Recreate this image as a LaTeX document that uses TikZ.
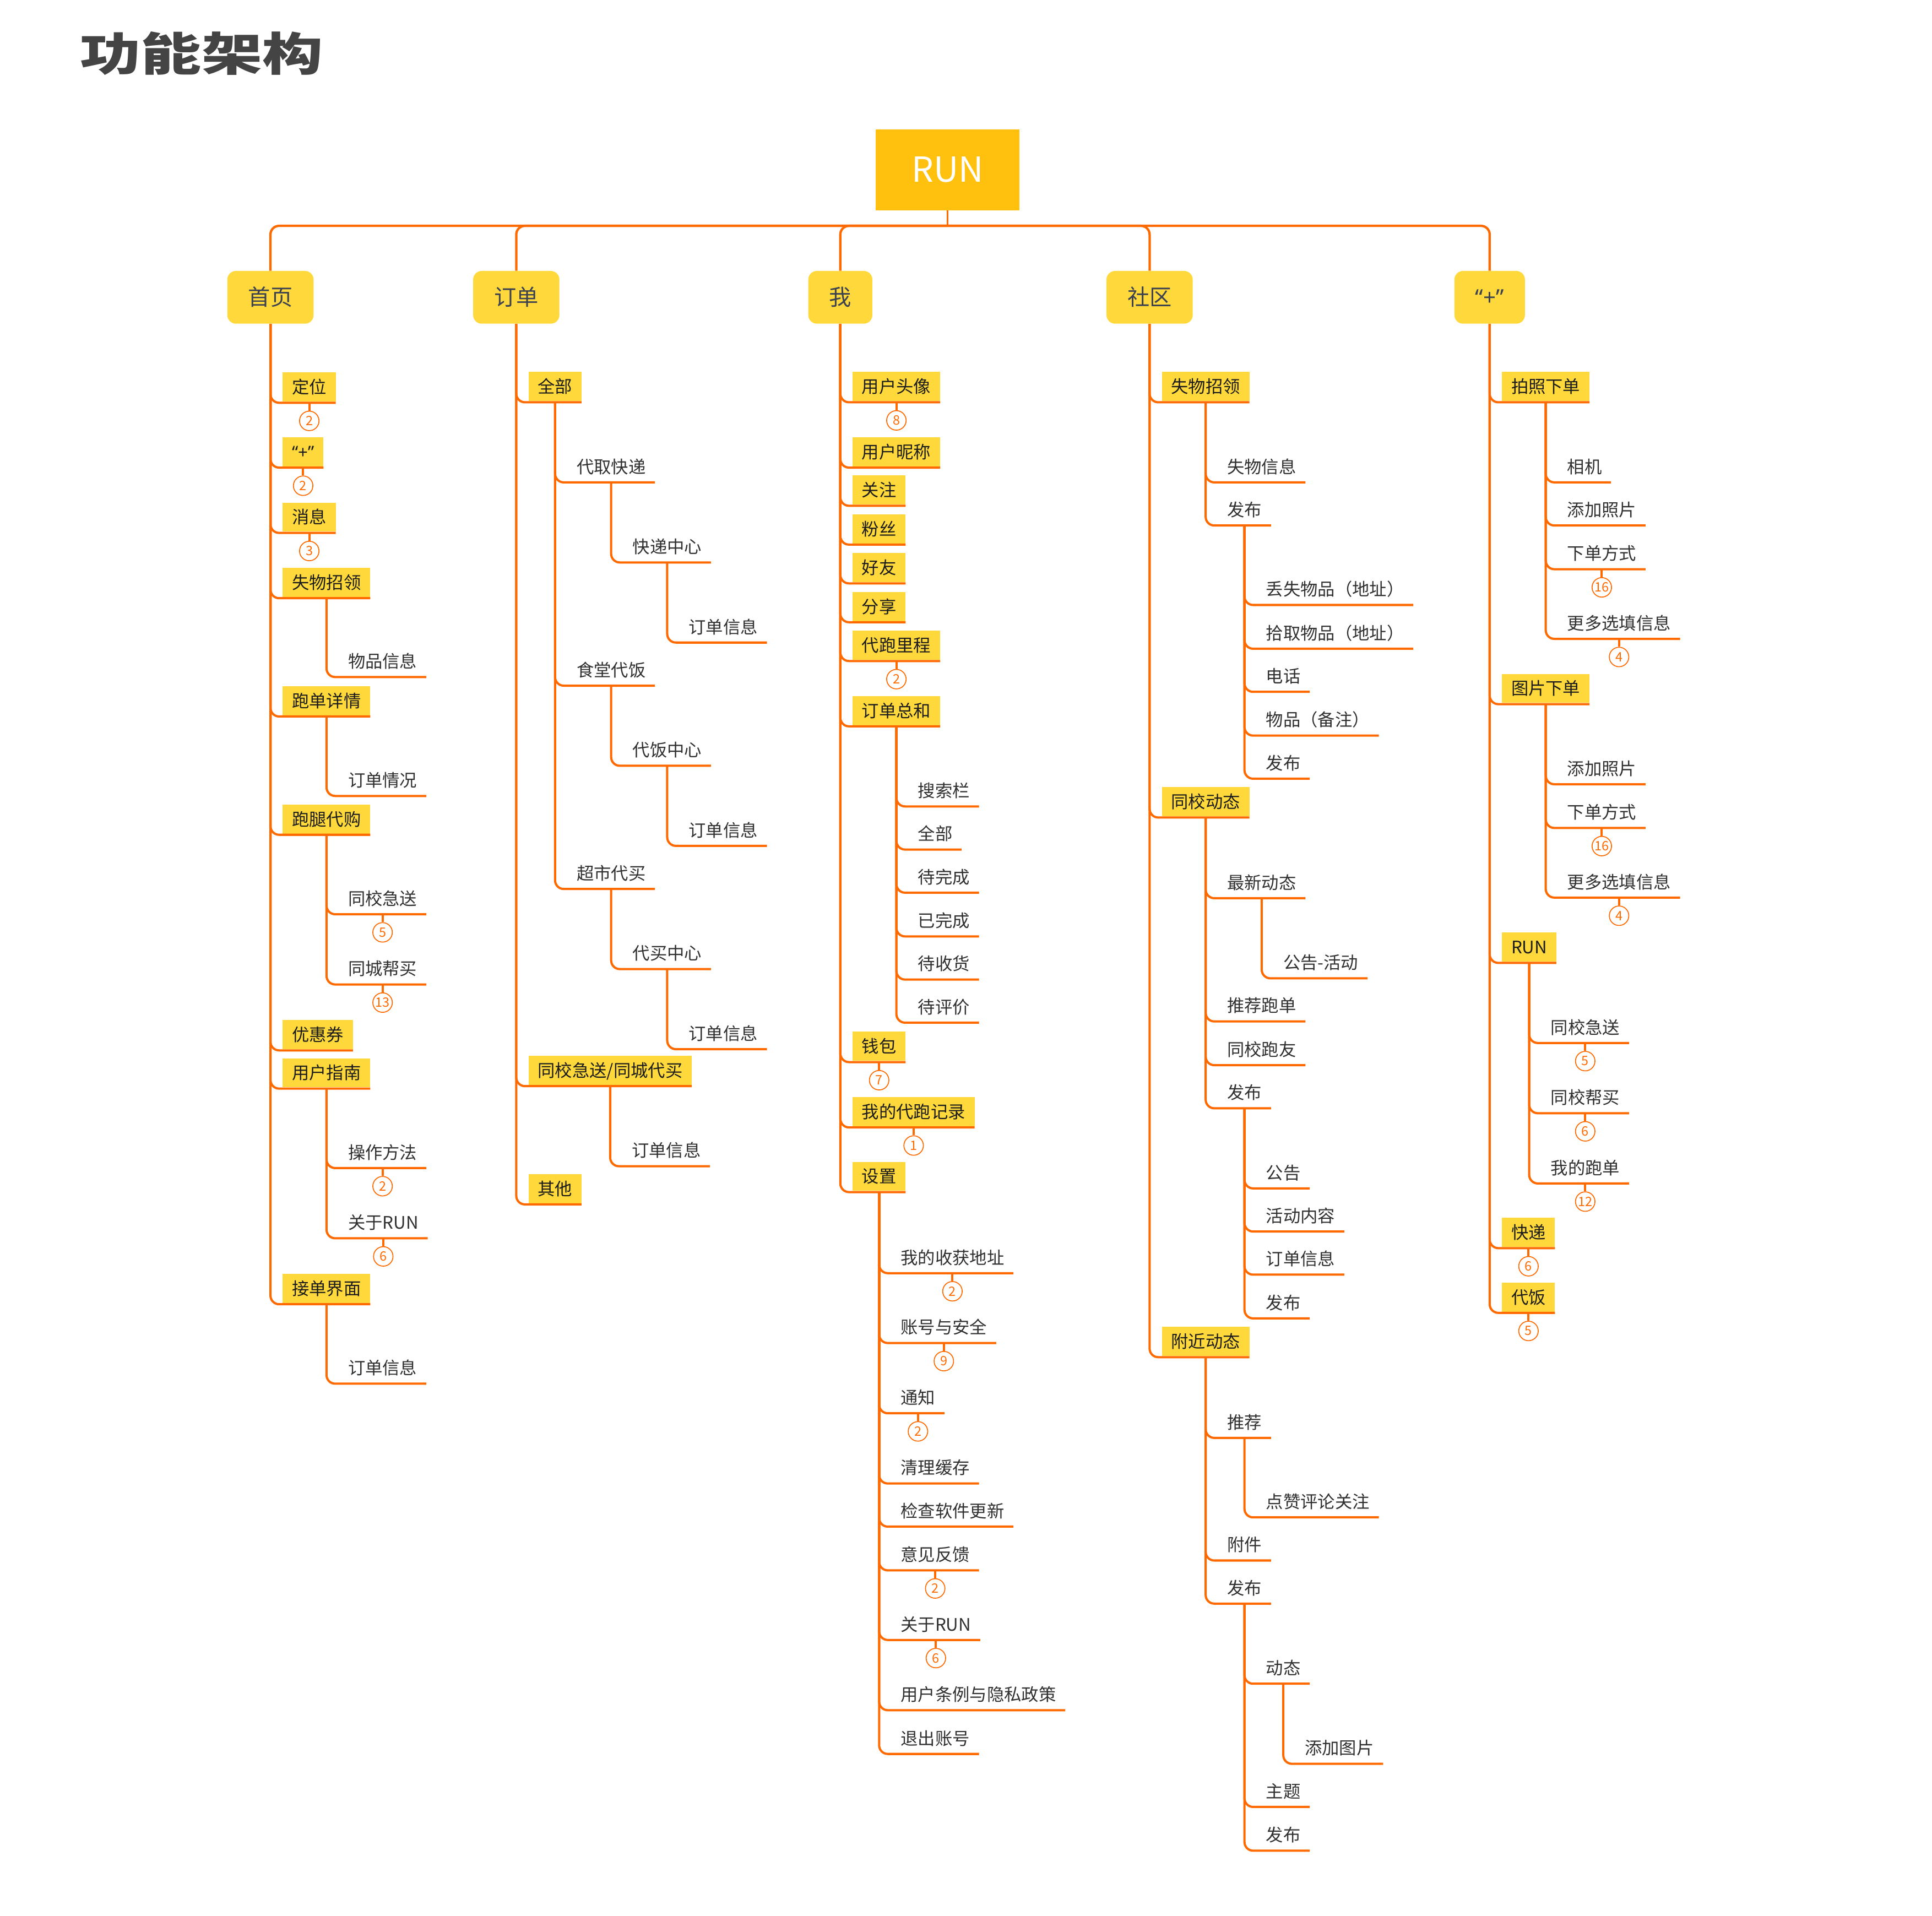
\documentclass[tikz,border=0pt]{standalone}
\usepackage{fontspec}
\setmainfont{Noto Sans CJK SC}
\newfontfamily\latinf{Noto Sans}
\usepackage{graphicx}
\definecolor{org}{HTML}{FF6A00}
\definecolor{ylw}{HTML}{FFD93B}
\definecolor{gold}{HTML}{FFC10E}
\definecolor{boxtxt}{HTML}{1C1C1C}
\definecolor{leaftxt}{HTML}{303030}
\definecolor{toptxt}{HTML}{3C4150}
\definecolor{ttl}{HTML}{444444}
\tikzset{
  conn/.style={draw=org, line width=1.8pt, rounded corners=7pt},
  barline/.style={draw=org, line width=1.9pt, rounded corners=7pt},
  rootline/.style={draw=org, line width=1.5pt},
  rootbox/.style={fill=gold, minimum width=117pt, minimum height=65.7pt, inner sep=0pt,
    text=white, font=\fontsize{28}{28}\selectfont, text height=20pt, text depth=0pt},
  topbox/.style={fill=ylw, rounded corners=7pt, inner xsep=17pt, inner ysep=0pt,
    minimum height=42.8pt, text=toptxt, font=\fontsize{18}{18}\selectfont,
    text height=15.5pt, text depth=2pt},
  lvl/.style={inner xsep=7.5pt, inner ysep=0pt, minimum height=23.6pt,
    text height=12.64pt, text depth=2pt, outer xsep=0pt, outer ysep=1pt,
    font=\fontsize{14}{14}\selectfont},
  yb/.style={lvl, fill=ylw, text=boxtxt},
  tx/.style={lvl, text=leaftxt},
  badge/.style={circle, draw=org, line width=0.75pt, fill=white, minimum size=15.8pt,
    inner sep=0pt, text=org, font=\fontsize{10.5}{10.5}\selectfont}
}
% #1 parent, #2 name, #3 underline y, #4 style, #5 text
\newcommand\kid[5]{%
  \path (#1.south) ++(10pt,0pt) coordinate (#2-x);
  \coordinate (#2-y) at (0,#3);
  \node[#4, anchor=south west] (#2) at (#2-x |- #2-y) {#5};
  \draw[conn] (#1.south) |- (#2.south east);
}
% #1 node, #2 badge name, #3 number
\newcommand\bdg[3]{%
  \node[badge] (#2) at ([yshift=-14.7pt]#1.south) {#3};
  \draw[conn] (#1.south) -- (#2.north);
}
\begin{document}
\begin{tikzpicture}[x=1pt, y=-1pt]
\useasboundingbox (0,0) rectangle (1568,1555);
\fill[white] (0,0) rectangle (1568,1555);

\node[inner sep=0pt, text=ttl] (title) at (163.6,43.4)
  {\scalebox{1.33}[1]{\fontsize{37}{37}\selectfont\bfseries 功能架构}};

\node[rootbox] (root) at (769,137.7) {RUN};
\coordinate (bary) at (0,183.3);

\node[topbox] (sy) at (219.5,241.3) {首页};
\node[topbox] (dd) at (419,241.3) {订单};
\node[topbox] (wo) at (682,241.3) {我};
\node[topbox] (sq) at (933,241.3) {社区};
\node[topbox] (jia) at (1209,241.3) {{\latinf “+”}};

\draw[rootline] (root.south) -- (root.south |- bary);
\foreach \t in {sy,dd,wo,sq,jia}{
  \draw[barline] (root.south |- bary) -| (\t.north);
}

% ---- 首页
\kid{sy}{a1}{326.9}{yb}{定位} \bdg{a1}{a1b}{2}
\kid{sy}{a2}{379.5}{yb}{{\latinf “+”}} \bdg{a2}{a2b}{2}
\kid{sy}{a3}{432.5}{yb}{消息} \bdg{a3}{a3b}{3}
\kid{sy}{a4}{485.5}{yb}{失物招领}
\kid{a4}{a41}{549.5}{tx}{物品信息}
\kid{sy}{a5}{581.5}{yb}{跑单详情}
\kid{a5}{a51}{646}{tx}{订单情况}
\kid{sy}{a6}{677.5}{yb}{跑腿代购}
\kid{a6}{a61}{742}{tx}{同校急送} \bdg{a61}{a61b}{5}
\kid{a6}{a62}{799}{tx}{同城帮买} \bdg{a62}{a62b}{13}
\kid{sy}{a7}{852.5}{yb}{优惠券}
\kid{sy}{a8}{883.5}{yb}{用户指南}
\kid{a8}{a81}{948}{tx}{操作方法} \bdg{a81}{a81b}{2}
\kid{a8}{a82}{1005}{tx}{关于RUN} \bdg{a82}{a82b}{6}
\kid{sy}{a9}{1058.5}{yb}{接单界面}
\kid{a9}{a91}{1123}{tx}{订单信息}

% ---- 订单
\kid{dd}{b1}{326.5}{yb}{全部}
\kid{b1}{b11}{391.5}{tx}{代取快递}
\kid{b11}{b111}{456.5}{tx}{快递中心}
\kid{b111}{b1111}{521.5}{tx}{订单信息}
\kid{b1}{b12}{556.5}{tx}{食堂代饭}
\kid{b12}{b121}{621.5}{tx}{代饭中心}
\kid{b121}{b1211}{686.5}{tx}{订单信息}
\kid{b1}{b13}{721.5}{tx}{超市代买}
\kid{b13}{b131}{786.5}{tx}{代买中心}
\kid{b131}{b1311}{851.5}{tx}{订单信息}
\kid{dd}{b2}{881.5}{yb}{同校急送/同城代买}
\kid{b2}{b21}{946.5}{tx}{订单信息}
\kid{dd}{b3}{977.5}{yb}{其他}

% ---- 我
\kid{wo}{c1}{326.5}{yb}{用户头像} \bdg{c1}{c1b}{8}
\kid{wo}{c2}{379.5}{yb}{用户昵称}
\kid{wo}{c3}{410.5}{yb}{关注}
\kid{wo}{c4}{442}{yb}{粉丝}
\kid{wo}{c5}{473.5}{yb}{好友}
\kid{wo}{c6}{505}{yb}{分享}
\kid{wo}{c7}{536.5}{yb}{代跑里程} \bdg{c7}{c7b}{2}
\kid{wo}{c8}{589.5}{yb}{订单总和}
\kid{c8}{c81}{654.5}{tx}{搜索栏}
\kid{c8}{c82}{689.5}{tx}{全部}
\kid{c8}{c83}{724.5}{tx}{待完成}
\kid{c8}{c84}{760}{tx}{已完成}
\kid{c8}{c85}{795}{tx}{待收货}
\kid{c8}{c86}{830}{tx}{待评价}
\kid{wo}{c9}{862}{yb}{钱包} \bdg{c9}{c9b}{7}
\kid{wo}{c10}{915}{yb}{我的代跑记录} \bdg{c10}{c10b}{1}
\kid{wo}{c11}{967.5}{yb}{设置}
\kid{c11}{c111}{1033.3}{tx}{我的收获地址} \bdg{c111}{c111b}{2}
\kid{c11}{c112}{1090}{tx}{账号与安全} \bdg{c112}{c112b}{9}
\kid{c11}{c113}{1147}{tx}{通知} \bdg{c113}{c113b}{2}
\kid{c11}{c114}{1204}{tx}{清理缓存}
\kid{c11}{c115}{1239}{tx}{检查软件更新}
\kid{c11}{c116}{1274.5}{tx}{意见反馈} \bdg{c116}{c116b}{2}
\kid{c11}{c117}{1331}{tx}{关于RUN} \bdg{c117}{c117b}{6}
\kid{c11}{c118}{1388}{tx}{用户条例与隐私政策}
\kid{c11}{c119}{1423.5}{tx}{退出账号}

% ---- 社区
\kid{sq}{d1}{326.5}{yb}{失物招领}
\kid{d1}{d11}{391.5}{tx}{失物信息}
\kid{d1}{d12}{426.5}{tx}{发布}
\kid{d12}{d121}{491}{tx}{丢失物品（地址）}
\kid{d12}{d122}{526.5}{tx}{拾取物品（地址）}
\kid{d12}{d123}{561.5}{tx}{电话}
\kid{d12}{d124}{597}{tx}{物品（备注）}
\kid{d12}{d125}{632}{tx}{发布}
\kid{sq}{d2}{663.5}{yb}{同校动态}
\kid{d2}{d21}{729}{tx}{最新动态}
\kid{d21}{d211}{794}{tx}{公告-活动}
\kid{d2}{d22}{829}{tx}{推荐跑单}
\kid{d2}{d23}{864.5}{tx}{同校跑友}
\kid{d2}{d24}{899.5}{tx}{发布}
\kid{d24}{d241}{964.5}{tx}{公告}
\kid{d24}{d242}{999.5}{tx}{活动内容}
\kid{d24}{d243}{1034.5}{tx}{订单信息}
\kid{d24}{d244}{1070}{tx}{发布}
\kid{sq}{d3}{1101.5}{yb}{附近动态}
\kid{d3}{d31}{1167}{tx}{推荐}
\kid{d31}{d311}{1231.5}{tx}{点赞评论关注}
\kid{d3}{d32}{1266.5}{tx}{附件}
\kid{d3}{d33}{1301.5}{tx}{发布}
\kid{d33}{d331}{1366.5}{tx}{动态}
\kid{d331}{d3311}{1431.5}{tx}{添加图片}
\kid{d33}{d332}{1466.5}{tx}{主题}
\kid{d33}{d333}{1502}{tx}{发布}

% ---- “+”
\kid{jia}{e1}{326.5}{yb}{拍照下单}
\kid{e1}{e11}{391.5}{tx}{相机}
\kid{e1}{e12}{426.5}{tx}{添加照片}
\kid{e1}{e13}{462}{tx}{下单方式} \bdg{e13}{e13b}{16}
\kid{e1}{e14}{518.5}{tx}{更多选填信息} \bdg{e14}{e14b}{4}
\kid{jia}{e2}{571.5}{yb}{图片下单}
\kid{e2}{e21}{636.5}{tx}{添加照片}
\kid{e2}{e22}{672}{tx}{下单方式} \bdg{e22}{e22b}{16}
\kid{e2}{e23}{728.5}{tx}{更多选填信息} \bdg{e23}{e23b}{4}
\kid{jia}{e3}{781.5}{yb}{RUN}
\kid{e3}{e31}{846.5}{tx}{同校急送} \bdg{e31}{e31b}{5}
\kid{e3}{e32}{903.5}{tx}{同校帮买} \bdg{e32}{e32b}{6}
\kid{e3}{e33}{960.5}{tx}{我的跑单} \bdg{e33}{e33b}{12}
\kid{jia}{e4}{1013}{yb}{快递} \bdg{e4}{e4b}{6}
\kid{jia}{e5}{1065.5}{yb}{代饭} \bdg{e5}{e5b}{5}
\end{tikzpicture}
\end{document}
